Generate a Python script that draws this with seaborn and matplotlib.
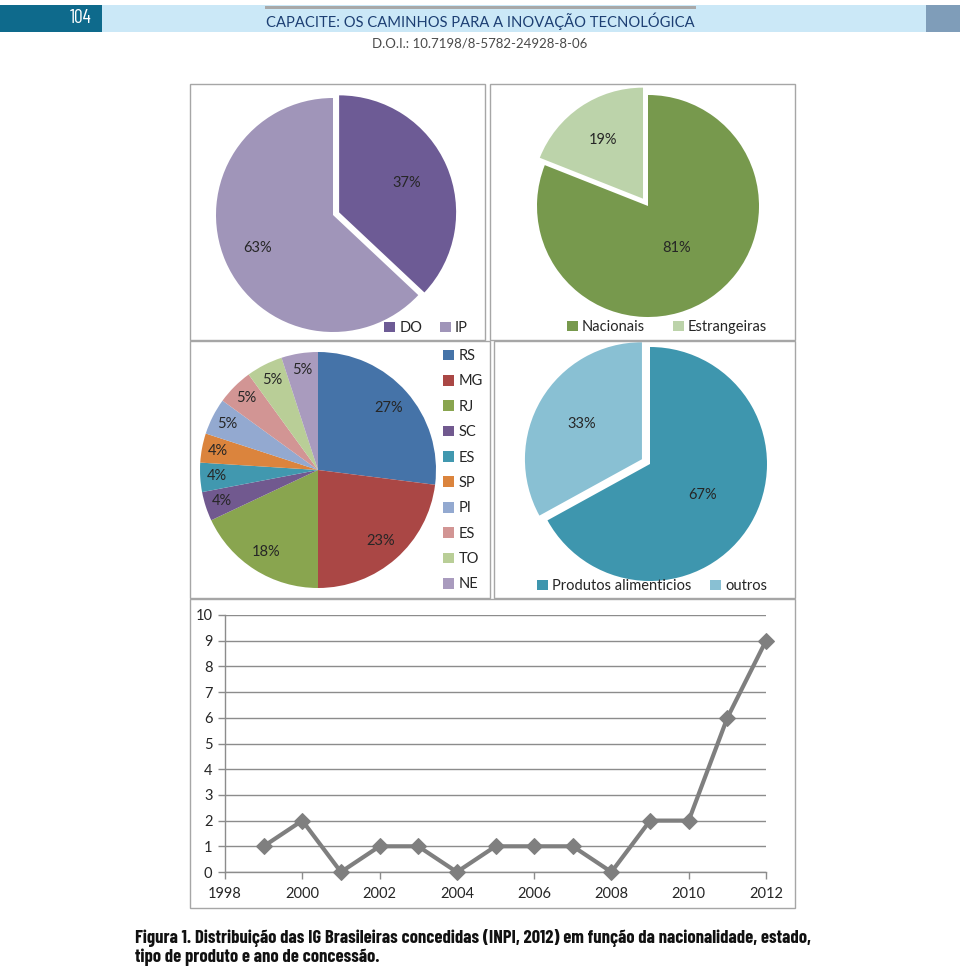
import numpy as np
import matplotlib
matplotlib.use("Agg")
import matplotlib.pyplot as plt
from matplotlib.patches import Rectangle
import seaborn as sns
import pandas as pd

# ---------------- data ----------------
tipo_labels = ["DO", "IP"]
tipo_vals = [37, 63]

origem_labels = ["Nacionais", "Estrangeiras"]
origem_vals = [81, 19]

estado_labels = ["RS", "MG", "RJ", "SC", "ES", "SP", "PI", "ES", "TO", "NE"]
estado_vals = [27, 23, 18, 4, 4, 4, 5, 5, 5, 5]

produto_labels = ["Produtos alimenticios", "outros"]
produto_vals = [67, 33]

anos = [1999, 2000, 2001, 2002, 2003, 2004, 2005, 2006, 2007, 2008, 2009, 2010, 2011, 2012]
concessoes = [1, 2, 0, 1, 1, 0, 1, 1, 1, 0, 2, 2, 6, 9]
xticks_anos = [1998, 2000, 2002, 2004, 2006, 2008, 2010, 2012]
yticks_vals = [0, 1, 2, 3, 4, 5, 6, 7, 8, 9, 10]

header_title = "CAPACITE: OS CAMINHOS PARA A INOVAÇÃO TECNOLÓGICA"
header_doi = "D.O.I.: 10.7198/8-5782-24928-8-06"
page_number = "104"
caption_l1 = "Figura 1. Distribuição das IG Brasileiras concedidas (INPI, 2012) em função da nacionalidade, estado,"
caption_l2 = "tipo de produto e ano de concessão."

# ---------------- style ----------------
sns.set_theme(style="white")
plt.rcParams["font.family"] = ["Lato", "DejaVu Sans"]
cond_family = ["Barlow Condensed", "DejaVu Sans"]

W, H = 960, 967
fig = plt.figure(figsize=(W / 100, H / 100), dpi=100)
fig.patch.set_facecolor("white")


def fx(x):
    return x / W


def fy(y):
    return 1 - y / H


def rect_px(x0, y0, x1, y1, **kw):
    r = Rectangle((fx(x0), fy(y1)), fx(x1) - fx(x0), fy(y0) - fy(y1),
                  transform=fig.transFigure, **kw)
    fig.patches.append(r)
    return r


# ---------------- header ----------------
rect_px(0, 5, 102, 32, facecolor="#0E6A8C", edgecolor="none", zorder=0)
rect_px(102, 5, 926, 32, facecolor="#CBE8F7", edgecolor="none", zorder=0)
rect_px(926, 5, 960, 32, facecolor="#7F9DB9", edgecolor="none", zorder=0)
rect_px(265, 6, 696, 9, facecolor="#A8A8A8", edgecolor="none", zorder=1)
fig.text(fx(91), fy(18), page_number, color="white", fontsize=14,
         family=cond_family, ha="right", va="center")
fig.text(fx(480), fy(21), header_title, color="#1D3F73", fontsize=10.6,
         family=["Lato", "DejaVu Sans"], ha="center", va="center")
fig.text(fx(480), fy(44), header_doi, color="#4A4A4A", fontsize=9.5,
         family=["Lato", "DejaVu Sans"], ha="center", va="center")

# ---------------- frames ----------------
frame_kw = dict(facecolor="none", edgecolor="#A6A6A6", linewidth=1.0, zorder=5)
rect_px(190, 84, 485, 340, **frame_kw)
rect_px(490, 84, 795, 340, **frame_kw)
rect_px(190, 341, 490, 598, **frame_kw)
rect_px(494, 341, 795, 598, **frame_kw)
rect_px(190, 599, 795, 908, **frame_kw)

label_color = "#262626"


def pie_axes(cx, cy, r):
    ax = fig.add_axes([fx(cx - r), fy(cy + r), 2 * r / W, 2 * r / H])
    ax.set_xlim(-1, 1)
    ax.set_ylim(-1, 1)
    ax.axis("off")
    return ax


def draw_pie(ax, vals, colors, explode, dists, fs=10.5):
    wedges, _ = ax.pie(vals, colors=colors, explode=explode, startangle=90,
                       counterclock=False, radius=1.0,
                       wedgeprops=dict(linewidth=0))
    for w, v, d in zip(wedges, vals, dists):
        w.set_clip_on(False)
        ang = np.deg2rad((w.theta1 + w.theta2) / 2)
        cx, cy = w.center
        ax.text(cx + d * np.cos(ang), cy + d * np.sin(ang), f"{v}%",
                ha="center", va="center", fontsize=fs, color=label_color)
    ax.set_xlim(-1, 1)
    ax.set_ylim(-1, 1)
    return wedges


def legend_px(wedges, labels, x, y, ncol, loc="center", **kw):
    leg = fig.legend(wedges, labels, loc=loc, bbox_to_anchor=(fx(x), fy(y)),
                     ncol=ncol, frameon=False, fontsize=10.5,
                     handlelength=0.75, handleheight=0.75, handletextpad=0.3,
                     borderaxespad=0, borderpad=0, **kw)
    for t in leg.get_texts():
        t.set_color(label_color)
    return leg


# Pie 1: DO / IP
ax1 = pie_axes(333, 215, 117)
w1 = draw_pie(ax1, tipo_vals, ["#6D5B95", "#A095B9"], [0.057, 0], [0.63, 0.70])
legend_px(w1, tipo_labels, 426, 328, 2, columnspacing=1.2)

# Pie 2: Nacionais / Estrangeiras
ax2 = pie_axes(648, 206, 111)
w2 = draw_pie(ax2, origem_vals, ["#77994D", "#BCD3AA"], [0, 0.08], [0.46, 0.64])
legend_px(w2, origem_labels, 667, 327, 2, columnspacing=1.9)

# Pie 3: estados
estado_colors = ["#4573A8", "#AA4745", "#89A54F", "#71598F", "#4198AF",
                 "#DB843D", "#93A9D0", "#D29594", "#B9CE97", "#A99BBE"]
ax3 = pie_axes(318, 470, 118)
w3 = draw_pie(ax3, estado_vals, estado_colors, [0] * 10, [0.80, 0.80, 0.82] + [0.86] * 7)
legend_px(w3, estado_labels, 443, 349, 1, loc="upper left", labelspacing=0.78)

# Pie 4: produtos
ax4 = pie_axes(650, 464, 117)
w4 = draw_pie(ax4, produto_vals, ["#3E96AE", "#89C0D3"], [0, 0.08], [0.52, 0.60])
legend_px(w4, produto_labels, 652, 586, 2, columnspacing=1.25)

# ---------------- line chart ----------------
x0, x1 = 225, 766
y0, y1 = 872, 615
axl = fig.add_axes([fx(x0), fy(y0), (x1 - x0) / W, (y0 - y1) / H])
df = pd.DataFrame({"ano": anos, "n": concessoes})
sns.lineplot(data=df, x="ano", y="n", ax=axl, color="#7F7F7F", linewidth=3,
             marker="D", markersize=8, markeredgecolor="#7F7F7F", clip_on=False, zorder=5)
axl.set_xlim(1998, 2012)
axl.set_ylim(0, 10)
axl.set_xticks(xticks_anos)
axl.set_yticks(yticks_vals)
axl.set_xlabel("")
axl.set_ylabel("")
axl.grid(axis="y", color="#8C8C8C", linewidth=1)
axl.grid(axis="x", visible=False)
axl.set_axisbelow(True)
for s in ["top", "right"]:
    axl.spines[s].set_visible(False)
for s in ["left", "bottom"]:
    axl.spines[s].set_color("#8C8C8C")
    axl.spines[s].set_linewidth(1)
axl.tick_params(axis="both", which="both", direction="out", length=5, width=1,
                color="#8C8C8C", labelsize=10.5, labelcolor=label_color)
axl.tick_params(axis="x", bottom=True, pad=6)
axl.tick_params(axis="y", left=True, pad=4)
axl.set_facecolor("none")

# ---------------- caption ----------------
fig.text(fx(135), fy(938), caption_l1, fontsize=13.4, fontweight="bold",
         family=cond_family, ha="left", va="center", color="#111111")
fig.text(fx(135), fy(957), caption_l2, fontsize=13.4, fontweight="bold",
         family=cond_family, ha="left", va="center", color="#111111")

fig.savefig("out.png", dpi=100)
